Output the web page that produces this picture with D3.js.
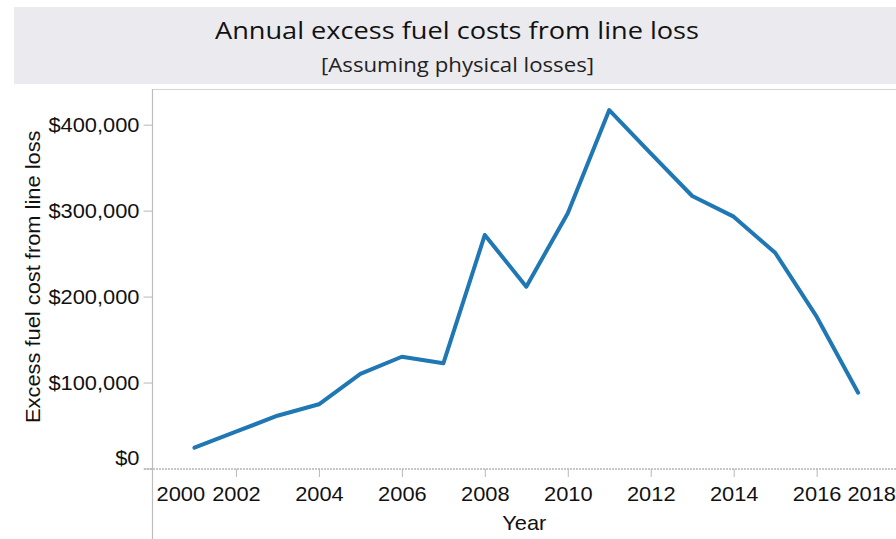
<!DOCTYPE html>
<html>
<head>
<meta charset="utf-8">
<script src="https://cdn.jsdelivr.net/npm/d3@7"></script>
<style>
  html, body { margin: 0; padding: 0; background: #ffffff; }
  svg { display: block; }
</style>
</head>
<body>
<svg id="chart" width="896" height="539"></svg>
<script>
// ---- Data ----
const years = [2001, 2002, 2003, 2004, 2005, 2006, 2007, 2008, 2009, 2010, 2011, 2012, 2013, 2014, 2015, 2016, 2017];
const costs = [24200, 42800, 61400, 74700, 110000, 130000, 122400, 271700, 211500, 297000, 417000, 366700, 317000, 293000, 251000, 176600, 88200];
const xTicks = [2000, 2002, 2004, 2006, 2008, 2010, 2012, 2014, 2016, 2018];
const yTicks = [0, 100000, 200000, 300000, 400000];
const titleText = "Annual excess fuel costs from line loss";
const subtitleText = "[Assuming physical losses]";
const xTitle = "Year";
const yTitle = "Excess fuel cost from line loss";

// ---- Layout ----
const W = 896, H = 539;
const plotLeft = 152.5, plotTop = 89, plotBottom = 468.5;
const svg = d3.select("#chart");
const tickFont = "'Liberation Sans', Arial, sans-serif";
const titleFont = "'Open Sans', 'Noto Sans', sans-serif";
const fs = 21, stretch = 1.04;

function widen(sel) {
  sel.each(function () {
    const w = this.getComputedTextLength();
    d3.select(this).attr("textLength", w * stretch).attr("lengthAdjust", "spacingAndGlyphs");
  });
}

const x = d3.scaleLinear().domain([2000, 2018]).range([153, 899.6]);
const y = d3.scaleLinear().domain([0, 441500]).range([plotBottom, plotTop]);

// Title band
svg.append("rect").attr("x", 14).attr("y", 7).attr("width", W - 14).attr("height", 77)
  .attr("fill", "#ebebef");
svg.append("text").attr("x", 457).attr("y", 38.5).attr("text-anchor", "middle")
  .attr("font-family", titleFont).attr("font-size", 23.5).attr("fill", "#111")
  .attr("textLength", 484).attr("lengthAdjust", "spacingAndGlyphs")
  .text(titleText);
svg.append("text").attr("x", 457.5).attr("y", 72).attr("text-anchor", "middle")
  .attr("font-family", titleFont).attr("font-size", 20).attr("fill", "#222")
  .attr("textLength", 273).attr("lengthAdjust", "spacingAndGlyphs")
  .text(subtitleText);

// Plot top border
svg.append("line").attr("x1", plotLeft).attr("x2", W).attr("y1", plotTop + 0.5).attr("y2", plotTop + 0.5)
  .attr("stroke", "#d4d4d4").attr("stroke-width", 1);

// Y axis
const yAxis = d3.axisLeft(y).tickValues(yTicks).tickSize(9).tickPadding(4)
  .tickFormat(d => "$" + d3.format(",")(d));
const yG = svg.append("g").attr("transform", `translate(${plotLeft},0)`).call(yAxis);
yG.select(".domain").remove();
yG.selectAll(".tick line").attr("stroke", "#b8b8b8");
yG.selectAll(".tick text").attr("font-family", tickFont).attr("font-size", fs).attr("fill", "#111")
  .attr("dy", d => d === 0 ? "-0.2em" : "0.34em").call(widen);
// left axis line (extends down through the x-axis area)
svg.append("line").attr("x1", plotLeft).attr("x2", plotLeft).attr("y1", plotTop).attr("y2", H)
  .attr("stroke", "#bdbdbd").attr("stroke-width", 1.2);

// X axis
const xAxis = d3.axisBottom(x).tickValues(xTicks).tickSize(8).tickPadding(9)
  .tickFormat(d3.format("d"));
const xG = svg.append("g").attr("transform", `translate(0,${plotBottom + 0.5})`).call(xAxis);
xG.select(".domain").remove();
xG.selectAll(".tick line").attr("stroke", "#b8b8b8").attr("display", d => (d === 2000 || d === 2018) ? "none" : null);
xG.selectAll(".tick text").attr("font-family", tickFont).attr("font-size", fs).attr("fill", "#111")
  .attr("text-anchor", d => d === 2000 ? "start" : (d === 2018 ? "end" : "middle"))
  .attr("dx", d => d === 2000 ? 3 : 0).call(widen);
xG.selectAll(".tick").filter(d => d === 2018).attr("transform", `translate(${W},0)`);
svg.append("line").attr("x1", 144).attr("x2", W).attr("y1", plotBottom + 0.5).attr("y2", plotBottom + 0.5)
  .attr("stroke", "#b5b5b5").attr("stroke-width", 1.5).attr("stroke-dasharray", "2,1");

// Axis titles
svg.append("text").attr("x", (plotLeft + W) / 2).attr("y", 530).attr("text-anchor", "middle")
  .attr("font-family", tickFont).attr("font-size", fs).attr("fill", "#111").text(xTitle).call(widen);
svg.append("text").attr("transform", `translate(40,${(plotTop + plotBottom) / 2 - 2}) rotate(-90)`)
  .attr("text-anchor", "middle")
  .attr("font-family", tickFont).attr("font-size", fs).attr("fill", "#111").text(yTitle).call(widen);

// Line
const line = d3.line().x((d, i) => x(years[i])).y(d => y(d));
svg.append("path").datum(costs).attr("d", line)
  .attr("fill", "none").attr("stroke", "#1f77b4").attr("stroke-width", 4)
  .attr("stroke-linejoin", "round").attr("stroke-linecap", "round");
</script>
</body>
</html>
